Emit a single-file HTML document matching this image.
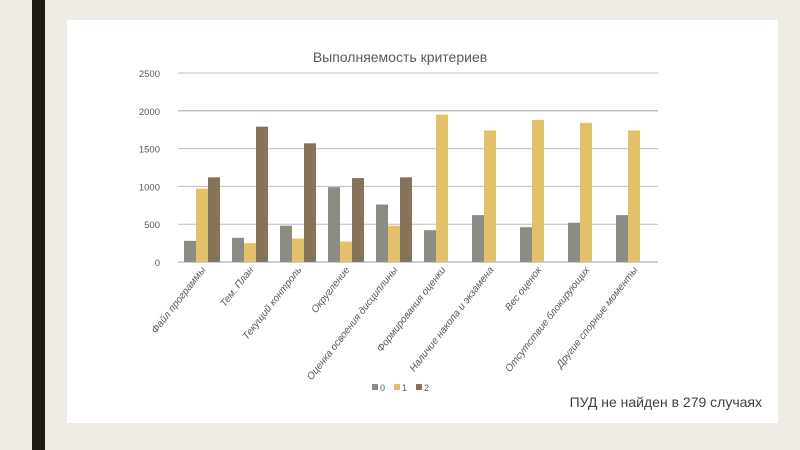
<!DOCTYPE html>
<html><head><meta charset="utf-8"><style>
body{margin:0;width:800px;height:450px;background:#efece5;overflow:hidden;font-family:"Liberation Sans",sans-serif;position:relative}
</style></head><body>
<div style="position:absolute;left:32px;top:0;width:13px;height:450px;background:#1c1c14"></div>
<div style="position:absolute;left:67px;top:20px;width:711px;height:403px;background:#fff"></div>
<svg id="chart" width="800" height="450" style="position:absolute;left:0;top:0">
<text x="400" y="62" text-anchor="middle" font-size="14" fill="#595959">Выполняемость критериев</text>
</svg>
<div style="position:absolute;right:38px;top:394px;font-size:14px;color:#404040">ПУД не найден в 279 случаях</div>
<script>
const categories=["Файл программы","Тем. План","Текущий контроль","Округление","Оценка освоения дисциплины","Формирования оценки","Наличие накопа и экзамена","Вес оценок","Отсутствие блокирующих","Другие спорные моменты"];
const series0=[280,320,480,990,760,420,620,460,520,620];
const series1=[970,250,310,270,480,1950,1740,1880,1840,1740];
const series2=[1120,1790,1570,1110,1120,0,0,0,0,0];
const seriesNames=["0","1","2"];
const ticks=[0,500,1000,1500,2000,2500];
const colors=["#8c8c84","#e5c06b","#857458"];
const svg=document.getElementById('chart');
const NS="http://www.w3.org/2000/svg";
const x0=178,x1=658,yTop=73,yBot=262,maxV=2500;
const y=v=>yBot-(v/maxV)*(yBot-yTop);
const band=(x1-x0)/categories.length;
function mk(t,a){const e=document.createElementNS(NS,t);for(const k in a)e.setAttribute(k,a[k]);svg.appendChild(e);return e;}
ticks.forEach(t=>{
 const l=mk('line',{x1:x0,x2:x1,y1:y(t),y2:y(t),stroke:'#bfbfbf','stroke-width':t==0||t==2000?1.5:1});
 
 
 const tx=mk('text',{x:160,y:y(t)+4,'text-anchor':'end','font-size':9.5,fill:'#595959'});tx.textContent=t;
 
 
});
const all=[series0,series1,series2];
const bw=12;
categories.forEach((c,i)=>{
 const bx=x0+i*band+(band-3*bw)/2;
 all.forEach((s,j)=>{
  if(s[i]<=0)return;
  const r=mk('rect',{x:bx+j*bw,y:y(s[i]),width:bw,height:yBot-y(s[i]),fill:colors[j]});
  
  
 });
 const cx=x0+i*band+band/2+4;
 const t=mk('text',{x:cx,y:270,'text-anchor':'end','font-size':10,'font-style':'italic',fill:'#595959',transform:`rotate(-52 ${cx} 270)`});
 t.textContent=c;
 
 
});
seriesNames.forEach((n,j)=>{
 const lx=372+j*22;
 const r=mk('rect',{x:lx,y:384,width:6,height:6,fill:colors[j]});
 
 
 const t=mk('text',{x:lx+8,y:391,'font-size':9,fill:'#595959'});t.textContent=n;
 
 
});
</script>
</body></html>
